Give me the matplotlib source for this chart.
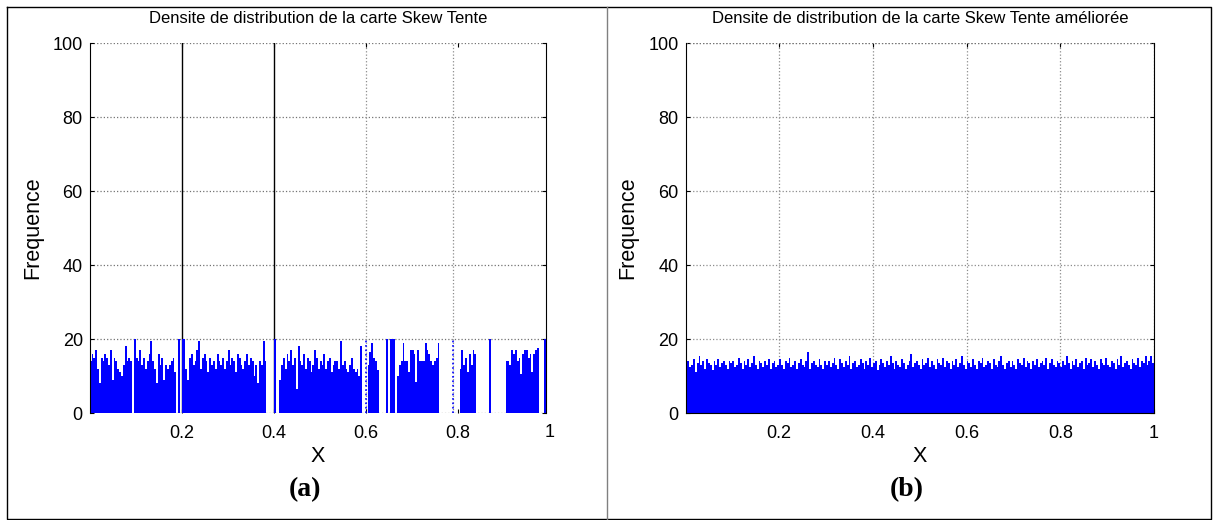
import numpy as np
import matplotlib
matplotlib.use("Agg")
from matplotlib import pyplot as plt
from matplotlib.lines import Line2D

plt.rcParams['font.family'] = ['Liberation Sans', 'DejaVu Sans']

c_bar = "#0000ff"

# histogram counts, 250 bins of width 0.004 on [0, 1]
bin_w = 0.004
counts_a = [
    14, 16, 15, 17, 12, 8, 15, 14, 16, 15, 13, 17, 9, 15, 14, 12, 11, 10, 13, 18, 14, 15, 14,
    0, 20,
    15, 14, 17, 13, 15, 12, 14, 16, 19.5, 14, 12, 8, 16, 13, 15, 9, 13, 12, 13, 14, 15, 11,
    0, 20, 0, 20, 20,
    12, 9, 15, 16, 13, 14, 17, 19.5, 12, 15, 16, 14, 11, 15, 13, 14, 12, 16, 14, 13,
    15, 12, 14, 17, 13, 15, 14, 11, 16, 15, 13, 12, 14, 16, 13, 15, 14, 10, 13, 8,
    14, 13, 19.5, 14,
    0, 0, 0, 0, 20, 0, 0,
    9, 13, 15, 12, 16, 14, 17, 13, 15, 6.5, 18, 14, 13, 16, 12, 15, 14, 11, 13, 17,
    15, 12, 14, 13, 16, 12, 14, 15, 11, 13, 14, 14, 12, 19.5, 13, 14, 12, 11, 13, 15,
    12, 11, 12,
    10, 18, 0, 0, 0,
    13, 16.5, 19, 15, 14, 11.5,
    0, 0, 0, 0, 20, 0, 20, 20, 20, 0,
    10, 13, 14, 19, 14, 14, 11, 17, 17, 16, 8.5, 17, 14, 14, 14, 19, 17, 16, 14, 13,
    14, 15, 19,
    0, 0, 0, 0, 0, 0, 0, 0, 0, 0, 0,
    12, 17, 13, 15, 11, 16, 13, 17, 16,
    0, 0, 0, 0, 0, 0, 0, 20, 0, 0, 0, 0, 0, 0, 0, 0,
    14, 14, 13, 17, 16, 17, 14, 15, 10.5, 16, 17, 17, 15, 16, 11, 16, 17, 17.5,
    0, 0, 0, 20, 0, 0,
]
# thin single-value bins drawn as dotted spikes
spikes_a = [0.6, 0.789]
spike_h = 20

counts_b = [
    13.5, 14, 12.5, 13, 14.5, 11, 13.5, 15.5, 13, 14, 12, 14.5, 13.5, 13, 11.5, 14, 13, 14.5, 12.5, 13.5, 14, 13, 12, 14, 13.5,
    14, 12.5, 13, 15, 13.5, 12, 14, 13, 14.5, 12.5, 13.5, 15.5, 13, 12, 14, 13.5, 12.5, 14, 13, 14.5, 12, 13.5, 14, 12.5, 13,
    14.5, 13, 12, 14, 13.5, 15, 12.5, 13, 14, 12, 13.5, 14.5, 13, 12.5, 14, 16.5, 12, 13.5, 14, 13, 12.5, 14.5, 13, 12, 14,
    13, 14, 12.5, 13.5, 15, 13, 12, 14.5, 13.5, 12.5, 14, 13, 15.5, 12, 13.5, 14, 12.5, 13, 14.5, 13.5, 12, 14, 13, 15, 12.5,
    13.5, 14, 11.5, 13, 14.5, 13.5, 12.5, 14, 13, 15.5, 13.5, 12, 14, 13, 12.5, 14.5, 13.5, 12, 13, 14, 16, 12.5, 13.5, 14, 13,
    12, 14.5, 13, 13.5, 15, 12.5, 14, 13, 12, 14.5, 13.5, 13, 15, 12.5, 14, 13.5, 12, 14, 13, 14.5, 12.5, 13.5, 15.5, 13, 12,
    14, 13.5, 12.5, 14.5, 13, 12, 14, 13.5, 15, 12.5, 13, 14, 13.5, 12, 14.5, 13, 12.5, 14, 15.5, 13, 12, 13.5, 14, 12.5, 14,
    13, 12, 14.5, 13.5, 13, 15, 12.5, 14, 13.5, 12, 14, 13, 14.5, 12.5, 13.5, 14, 13, 15, 12, 13.5, 14.5, 13, 12.5, 14, 13.5,
    12.5, 14, 13, 15.5, 13.5, 12, 14, 13, 14.5, 12.5, 13.5, 14, 12, 15, 13, 13.5, 14.5, 12.5, 14, 13, 12, 14.5, 13.5, 13, 15,
    13, 12.5, 14, 13.5, 12, 14.5, 13, 15.5, 12.5, 13.5, 14, 13, 12, 14.5, 13.5, 13, 15, 12.5, 14, 13.5, 15.5, 13, 14, 15.5, 13.5,
]

yticks = [0, 20, 40, 60, 80, 100]
xticks = [0.2, 0.4, 0.6, 0.8, 1]
titles = ["Densite de distribution de la carte Skew Tente",
          "Densite de distribution de la carte Skew Tente améliorée"]
tags = ["(a)", "(b)"]

W, H = 1213, 520
fig = plt.figure(figsize=(W / 100, H / 100), dpi=100)

def px(x0, x1, y0, y1):
    return [x0 / W, 1 - y1 / H, (x1 - x0) / W, (y1 - y0) / H]

ax_a = fig.add_axes(px(89.7, 545.7, 43, 413))
ax_b = fig.add_axes(px(685.5, 1154, 43, 413))

edges = np.arange(len(counts_a)) * bin_w
ax_a.bar(edges, counts_a, width=bin_w, align='edge', color=c_bar, linewidth=0, zorder=2)
ax_a.vlines(spikes_a, 0, spike_h, colors=c_bar, linestyles=':', linewidth=1.2, zorder=2)
ax_b.bar(np.arange(len(counts_b)) * bin_w, counts_b, width=bin_w, align='edge',
         color=c_bar, linewidth=0, zorder=2)

for ax, t in zip([ax_a, ax_b], titles):
    ax.set_ylim(0, 100)
    ax.set_yticks(yticks)
    ax.tick_params(direction='in', length=3, labelsize=13, top=True, right=True,
                   pad=5, color='black')
    ax.tick_params(axis='x', pad=9)
    ax.set_ylabel("Frequence", fontsize=15.5)
    ax.set_xlabel("X", fontsize=15.5, va='top')
    ax.yaxis.set_label_coords(-0.101, 0.5)
    ax.xaxis.set_label_coords(0.5, -0.088)
    ax.text(0.5, 1.045, t, transform=ax.transAxes, ha='center', va='bottom', fontsize=12)
    for s in ['top', 'bottom']:
        ax.spines[s].set_visible(False)

# left panel: grid drawn by hand, two solid lines and shifted last lines
ax_a.set_xlim(0, 0.991)
ax_a.set_xticks(xticks[:-1])
ax_a.text(1.0, -0.03, "1", transform=ax_a.get_xaxis_transform(), ha='center', va='top',
          fontsize=13)
for y in yticks:
    ax_a.axhline(y, color='0.45', linestyle=':', linewidth=0.9, zorder=1)
for x in [0.2, 0.4]:
    ax_a.axvline(x, color='black', linewidth=1.0, zorder=1)
for x in [0.6, 0.789]:
    ax_a.axvline(x, color='0.55', linestyle=':', linewidth=0.9, zorder=1)

# right panel: regular dotted grid
ax_b.set_xlim(0, 1)
ax_b.set_xticks(xticks)
ax_b.set_xticklabels(["0.2", "0.4", "0.6", "0.8", "1"])
ax_b.set_axisbelow(True)
ax_b.grid(True, color='0.55', linestyle=':', linewidth=0.9)
ax_b.spines['bottom'].set_visible(True)
ax_b.axhline(100, color='0.45', linestyle=':', linewidth=0.9)

for x, tag in zip([305 / W, 907 / W], tags):
    fig.text(x, 1 - 490 / H, tag, ha='center', va='center', fontsize=20,
             fontweight='bold', family=['Liberation Serif', 'DejaVu Serif'])

# table frame around the two panels
fx = [7 / W, 1210.5 / W]
fy = [1 - 7 / H, 1 - 518.5 / H]
fig.add_artist(Line2D([fx[0], fx[1], fx[1], fx[0], fx[0]], [fy[0], fy[0], fy[1], fy[1], fy[0]],
                      color='black', linewidth=1.0))
fig.add_artist(Line2D([607 / W, 607 / W], [fy[0], fy[1]], color='0.5', linewidth=1.0))

plt.savefig("out.png", dpi=100)
